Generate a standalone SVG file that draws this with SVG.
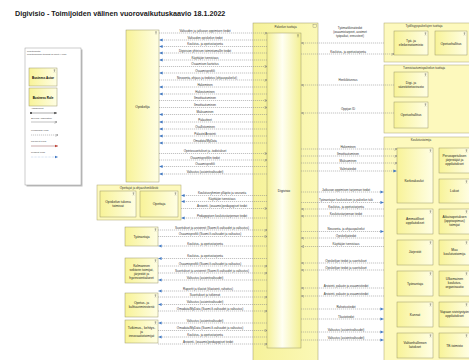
<svg xmlns="http://www.w3.org/2000/svg" width="469" height="360" viewBox="0 0 469 360">
<defs>
<linearGradient id="gA" x1="0" x2="1" y1="0" y2="0"><stop offset="0" stop-color="#f8f398"/><stop offset="1" stop-color="#fffee4"/></linearGradient>
<linearGradient id="gD" x1="0" x2="1" y1="0" y2="0"><stop offset="0" stop-color="#f5f196"/><stop offset="0.45" stop-color="#fffff3"/><stop offset="1" stop-color="#f3ef92"/></linearGradient>
<linearGradient id="gO" x1="0" x2="1" y1="0" y2="0"><stop offset="0" stop-color="#f6f29a"/><stop offset="1" stop-color="#fbf8b6"/></linearGradient>
<marker id="mb" viewBox="0 0 6 6" refX="5.5" refY="3" markerWidth="3.4" markerHeight="3.4" markerUnits="userSpaceOnUse" orient="auto"><path d="M0,0.5 L6,3 L0,5.5 z" fill="#3f78c4"/></marker>
<marker id="mg" viewBox="0 0 6 6" refX="5.5" refY="3" markerWidth="3" markerHeight="3" markerUnits="userSpaceOnUse" orient="auto"><path d="M0.5,0.5 L5.5,3 L0.5,5.5" fill="none" stroke="#6f6f6f" stroke-width="1"/></marker>
<marker id="mr" viewBox="0 0 6 6" refX="5.5" refY="3" markerWidth="3.2" markerHeight="3.2" markerUnits="userSpaceOnUse" orient="auto"><path d="M0,0.5 L6,3 L0,5.5 z" fill="#c0392b"/></marker>
<marker id="md" viewBox="0 0 6 6" refX="3" refY="3" markerWidth="2.4" markerHeight="2.4" markerUnits="userSpaceOnUse" orient="auto"><circle cx="3" cy="3" r="2.6" fill="#444"/></marker>
<marker id="mk" viewBox="0 0 6 6" refX="5.5" refY="3" markerWidth="3" markerHeight="3" markerUnits="userSpaceOnUse" orient="auto"><path d="M0,0.5 L6,3 L0,5.5 z" fill="#444"/></marker>
<symbol id="ic" viewBox="0 0 4 5"><circle cx="2" cy="0.9" r="0.7" fill="none" stroke="#555" stroke-width="0.35"/><path d="M2 1.6V3.3M0.8 2.2H3.2M2 3.3L1 4.7M2 3.3L3 4.7" stroke="#555" stroke-width="0.35" fill="none"/></symbol>
</defs>
<style>
text{font-family:"Liberation Sans",Arial,sans-serif}
.title{font-size:7.2px;font-weight:bold;fill:#1a1a1a}
.cl{font-size:3px;fill:#333;text-anchor:middle}
.nl{font-size:3.3px;fill:#222;text-anchor:middle}
.gl{font-size:3px;fill:#333;text-anchor:middle}
.lg{font-size:2.4px;fill:#444}
.act{fill:url(#gA);stroke:#9b9868;stroke-width:0.5}
.grp{fill:#fdf9bd;stroke:#aaa56c;stroke-width:0.5}
.c{stroke:#858585;stroke-width:0.5;stroke-dasharray:1.2 0.8;fill:none}
</style>
<rect width="469" height="360" fill="#fff"/>
<text class="title" x="15" y="15.5">Digivisio - Toimijoiden välinen vuorovaikutuskaavio 18.1.2022</text>

<g id="legend">
<rect x="26.5" y="49.5" width="56" height="137" fill="#bdbdbd"/>
<rect x="25" y="48" width="56" height="137" fill="#fff" stroke="#9a9a9a" stroke-width="0.5"/>
<text class="lg" x="27" y="51.8">Liiketoiminta</text>
<text class="lg" x="27" y="55">Liiketoiminnan toimijat ja roolit (Archi)</text>
<rect class="act" x="29" y="68" width="28" height="18"/>
<use href="#ic" x="53" y="69" width="3" height="3.8"/>
<text x="43" y="78.5" style="font-size:3px;font-weight:bold;text-anchor:middle">Business Actor</text>
<rect class="act" x="29" y="88" width="28" height="18"/>
<text x="43" y="98.5" style="font-size:3px;font-weight:bold;text-anchor:middle">Business Role</text>
<text class="lg" x="31" y="109">Assignment</text>
<line x1="31" y1="113" x2="57" y2="113" stroke="#444" stroke-width="0.45" marker-start="url(#md)" marker-end="url(#mk)"/>
<text class="lg" x="31" y="118.5">Serving Association</text>
<line x1="31" y1="122" x2="57" y2="122" stroke="#777" stroke-width="0.45" marker-end="url(#mg)"/>
<text class="lg" x="31" y="130.5">Knowledge Flow</text>
<line x1="31" y1="135" x2="58" y2="135" class="c" marker-end="url(#mg)"/>
<text class="lg" x="31" y="141.5">Payment Flow</text>
<line x1="31" y1="146" x2="58" y2="146" stroke="#8b4444" stroke-width="0.45" marker-end="url(#mr)"/>
<text class="lg" x="31" y="153">Product Flow</text>
<line x1="31" y1="157" x2="58" y2="157" stroke="#7fa6d8" stroke-width="0.5" stroke-dasharray="0.6 0.8" marker-end="url(#mb)"/>
</g>

<g id="node-opiskelija">
<rect class="act" x="126" y="30" width="33" height="152"/>
<use href="#ic" x="154.5" y="31" width="3" height="3.8"/>
<text class="nl" x="142.5" y="108">Opiskelija</text>
</g>

<g id="node-opettajat">
<rect class="grp" x="97" y="185" width="84" height="35"/>
<text class="gl" x="139" y="189">Opettajat ja ohjaushenkilöstö</text>
<rect class="act" x="100" y="191" width="36" height="26"/>
<use href="#ic" x="132" y="192" width="3" height="3.8"/>
<text class="nl" x="118" y="203">Opiskelun tukena</text>
<text class="nl" x="118" y="207">toimivat</text>
<rect class="act" x="140" y="191" width="38" height="26"/>
<use href="#ic" x="174" y="192" width="3" height="3.8"/>
<text class="nl" x="159" y="205">Opettaja</text>
</g>

<g id="node-tyonantaja">
<rect class="act" x="125" y="227" width="33" height="19"/>
<use href="#ic" x="154" y="228" width="3" height="3.8"/>
<text class="nl" x="141.5" y="238">Työnantaja</text>
</g>

<g id="node-kolmas-sektori">
<rect class="act" x="125" y="258" width="33" height="25"/>
<use href="#ic" x="154" y="259" width="3" height="3.8"/>
<text class="nl" x="141.5" y="267">Kolmannen</text>
<text class="nl" x="141.5" y="271">sektorin toimijat,</text>
<text class="nl" x="141.5" y="275">järjestöt ja</text>
<text class="nl" x="141.5" y="279">hyvinvointialueet</text>
</g>

<g id="node-okm">
<rect class="act" x="125" y="293" width="33" height="24"/>
<use href="#ic" x="154" y="294" width="3" height="3.8"/>
<text class="nl" x="141.5" y="304">Opetus- ja</text>
<text class="nl" x="141.5" y="308">kulttuuriministeriö</text>
</g>

<g id="node-tki">
<rect class="act" x="125" y="320" width="33" height="23"/>
<use href="#ic" x="154" y="321" width="3" height="3.8"/>
<text class="nl" x="141.5" y="328.5">Tutkimus-, kehitys-</text>
<text class="nl" x="141.5" y="332.5">ja</text>
<text class="nl" x="141.5" y="336.5">innovaatiotoimijat</text>
</g>

<g id="node-palvelun-tuottaja">
<rect x="253" y="23" width="65" height="345" fill="url(#gO)" stroke="#9b9868" stroke-width="0.5"/>
<rect x="313" y="24.5" width="3.5" height="3" fill="none" stroke="#666" stroke-width="0.3"/>
<text class="gl" x="285.5" y="27.5">Palvelun tuottaja</text>
</g>

<g id="node-digivisio">
<rect x="267" y="33" width="34" height="315" fill="url(#gD)" stroke="#9b9868" stroke-width="0.5"/>
<use href="#ic" x="296.5" y="34" width="3" height="3.8"/>
<text class="nl" x="284" y="192">Digivisio</text>
</g>

<g id="node-tyollisyys">
<rect class="grp" x="384" y="23" width="90" height="39"/>
<text class="gl" x="424" y="27">Työllisyyspalvelujen tuottaja</text>
<rect class="act" x="394" y="31" width="34" height="24"/>
<use href="#ic" x="424" y="32" width="3" height="3.8"/>
<text class="nl" x="411" y="42">Työ- ja</text>
<text class="nl" x="411" y="46">elinkeinotoimisto</text>
<rect class="act" x="435" y="31" width="32" height="24"/>
<use href="#ic" x="463" y="32" width="3" height="3.8"/>
<text class="nl" x="451" y="44.5">Opetushallitus</text>
</g>

<g id="node-tunnistus">
<rect class="grp" x="384" y="65" width="90" height="68"/>
<text class="gl" x="424" y="69">Tunnistautumispalvelun tuottaja</text>
<rect class="act" x="394" y="72" width="34" height="25"/>
<use href="#ic" x="424" y="73" width="3" height="3.8"/>
<text class="nl" x="411" y="83.5">Digi- ja</text>
<text class="nl" x="411" y="87.5">väestötietovirasto</text>
<rect class="act" x="394" y="102" width="34" height="26"/>
<use href="#ic" x="424" y="103" width="3" height="3.8"/>
<text class="nl" x="411" y="116">Opetushallitus</text>
</g>

<g id="node-koulutustoimija">
<rect class="grp" x="384" y="137" width="90" height="230"/>
<text class="gl" x="421" y="141">Koulutustoimija</text>
</g>
<g id="node-korkeakoulut"><rect class="act" x="397" y="148" width="36" height="55"/><use href="#ic" x="429" y="149" width="3" height="3.8"/><text class="nl" x="414" y="182">Korkeakoulut</text></g>
<g id="node-ammatilliset"><rect class="act" x="397" y="209" width="36" height="25"/><use href="#ic" x="429" y="210" width="3" height="3.8"/><text class="nl" x="415" y="220">Ammatilliset</text><text class="nl" x="415" y="224">oppilaitokset</text></g>
<g id="node-jarjestot"><rect class="act" x="397" y="240" width="36" height="25"/><use href="#ic" x="429" y="241" width="3" height="3.8"/><text class="nl" x="415" y="253">Järjestöt</text></g>
<g id="node-tyonantaja2"><rect class="act" x="397" y="271" width="36" height="25"/><use href="#ic" x="429" y="272" width="3" height="3.8"/><text class="nl" x="415" y="284.5">Työnantaja</text></g>
<g id="node-kunnat"><rect class="act" x="397" y="302" width="36" height="25"/><use href="#ic" x="429" y="303" width="3" height="3.8"/><text class="nl" x="415" y="315.5">Kunnat</text></g>
<g id="node-valtionhallinto"><rect class="act" x="397" y="333" width="36" height="25"/><use href="#ic" x="429" y="334" width="3" height="3.8"/><text class="nl" x="415" y="344">Valtionhallinnon</text><text class="nl" x="415" y="348">laitokset</text></g>
<g id="node-perusopetus"><rect class="act" x="439" y="148" width="31" height="25"/><use href="#ic" x="465" y="149" width="3" height="3.8"/><text class="nl" x="454.5" y="157">Perusopetuksen</text><text class="nl" x="454.5" y="161">järjestäjät ja</text><text class="nl" x="454.5" y="165">oppilaitokset</text></g>
<g id="node-lukiot"><rect class="act" x="439" y="179" width="31" height="24"/><use href="#ic" x="465" y="180" width="3" height="3.8"/><text class="nl" x="454.5" y="192">Lukiot</text></g>
<g id="node-aikuiskoulutus"><rect class="act" x="439" y="209" width="31" height="25"/><use href="#ic" x="465" y="210" width="3" height="3.8"/><text class="nl" x="454.5" y="218">Aikuisopetuksen</text><text class="nl" x="454.5" y="222">(oppisopimus)</text><text class="nl" x="454.5" y="226">toimijat</text></g>
<g id="node-muu"><rect class="act" x="439" y="240" width="31" height="25"/><use href="#ic" x="465" y="241" width="3" height="3.8"/><text class="nl" x="454.5" y="251">Muu</text><text class="nl" x="454.5" y="255">koulutustoimija</text></g>
<g id="node-ulkomainen"><rect class="act" x="439" y="271" width="31" height="25"/><use href="#ic" x="465" y="272" width="3" height="3.8"/><text class="nl" x="454.5" y="280">Ulkomainen</text><text class="nl" x="454.5" y="284">koulutus-</text><text class="nl" x="454.5" y="288">organisaatio</text></g>
<g id="node-vapaa"><rect class="act" x="439" y="302" width="31" height="25"/><use href="#ic" x="465" y="303" width="3" height="3.8"/><text class="nl" x="454.5" y="313">Vapaan sivistystyön</text><text class="nl" x="454.5" y="317">oppilaitokset</text></g>
<g id="node-te"><rect class="act" x="439" y="333" width="31" height="25"/><use href="#ic" x="465" y="334" width="3" height="3.8"/><text class="nl" x="454.5" y="346.5">TE-toimisto</text></g>

<g id="connectors">
<line class="c" x1="159" y1="33" x2="267" y2="33" marker-end="url(#mg)"/><text class="cl" x="205" y="31.8">Valtuuden ja jatkuvan oppimisen tiedot</text>
<line class="c" x1="267" y1="40" x2="159.5" y2="40" marker-end="url(#mb)"/><text class="cl" x="205" y="38.8">Valtuuden opiskelun tiedot</text>
<line class="c" x1="267" y1="46.5" x2="159.5" y2="46.5" marker-end="url(#mb)"/><text class="cl" x="205" y="45.3">Koulutus- ja opetustarjonta</text>
<line class="c" x1="267" y1="53" x2="159.5" y2="53" marker-end="url(#mb)"/><text class="cl" x="205" y="51.8">Digivision yhteisen toimintamallin tiedot</text>
<line class="c" x1="267" y1="60" x2="159.5" y2="60" marker-end="url(#mb)"/><text class="cl" x="205" y="58.8">Käyttäjän tunnistaus</text>
<line class="c" x1="159" y1="66.5" x2="267" y2="66.5" marker-end="url(#mg)"/><text class="cl" x="205" y="65.3">Osaamisen kartoitus</text>
<line class="c" x1="267" y1="73" x2="159.5" y2="73" marker-end="url(#mb)"/><text class="cl" x="205" y="71.8">Osaamisprofiili</text>
<line class="c" x1="159" y1="80" x2="267" y2="80" marker-end="url(#mg)"/><text class="cl" x="207" y="78.8">Neuvonta, ohjaus ja tiedotus (ohjauspalvelut)</text>
<line class="c" x1="267" y1="87" x2="159.5" y2="87" marker-end="url(#mb)"/><text class="cl" x="205" y="85.8">Hakeminen</text>
<line class="c" x1="267" y1="94" x2="159.5" y2="94" marker-end="url(#mb)"/><text class="cl" x="205" y="92.8">Hakeutuminen</text>
<line class="c" x1="159" y1="100.5" x2="267" y2="100.5" marker-end="url(#mg)"/><text class="cl" x="205" y="99.3">Ilmoittautuminen</text>
<line class="c" x1="159" y1="107.5" x2="267" y2="107.5" marker-end="url(#mg)"/><text class="cl" x="205" y="106.3">Ilmoittautuminen</text>
<line class="c" x1="267" y1="114.5" x2="159.5" y2="114.5" marker-end="url(#mb)"/><text class="cl" x="205" y="113.3">Maksaminen</text>
<line class="c" x1="267" y1="122" x2="159.5" y2="122" marker-end="url(#mb)"/><text class="cl" x="205" y="120.8">Palautteet</text>
<line class="c" x1="267" y1="129" x2="159.5" y2="129" marker-end="url(#mb)"/><text class="cl" x="205" y="127.8">Osallistuminen</text>
<line class="c" x1="267" y1="136" x2="159.5" y2="136" marker-end="url(#mb)"/><text class="cl" x="205" y="134.8">Palaute/Arviointi</text>
<line class="c" x1="267" y1="143" x2="159.5" y2="143" marker-end="url(#mb)"/><text class="cl" x="205" y="141.8">Omadata/MyData</text>
<line class="c" x1="159" y1="153.5" x2="267" y2="153.5" marker-end="url(#mg)"/><text class="cl" x="205" y="152.3">Opintosuoritukset ja -todistukset</text>
<line class="c" x1="159" y1="160" x2="267" y2="160" marker-end="url(#mg)"/><text class="cl" x="205" y="158.8">Osaamisprofiilin tiedot</text>
<line class="c" x1="267" y1="166.5" x2="159.5" y2="166.5" marker-end="url(#mb)"/><text class="cl" x="205" y="165.3">Osaamisprofiili</text>
<line class="c" x1="267" y1="174" x2="159.5" y2="174" marker-end="url(#mb)"/><text class="cl" x="205" y="172.8">Valtuutus (asiointivaltuudet)</text>

<line class="c" x1="267" y1="195.5" x2="181.5" y2="195.5" marker-end="url(#mb)"/><text class="cl" x="222" y="194.3">Koulutusryhmien ylläpito ja seuranta</text>
<line class="c" x1="267" y1="201.5" x2="181.5" y2="201.5" marker-end="url(#mb)"/><text class="cl" x="222" y="200.3">Käyttäjän tunnistaus</text>
<line class="c" x1="181" y1="208.5" x2="267" y2="208.5" marker-end="url(#mg)"/><text class="cl" x="222" y="207.3">Arviointi- (osaamis)pedagogiset tiedot</text>
<line class="c" x1="267" y1="218" x2="181.5" y2="218" marker-end="url(#mb)"/><text class="cl" x="222" y="216.8">Pedagogisen koulutustarjonnan tiedot</text>

<line class="c" x1="158" y1="230" x2="267" y2="230" marker-end="url(#mg)"/><text class="cl" x="212" y="228.8">Suoritukset ja arvioinnit (Suomi.fi-valtuudet ja valtuutus)</text>
<line class="c" x1="158" y1="236.5" x2="267" y2="236.5" marker-end="url(#mg)"/><text class="cl" x="210" y="235.3">Osaamisprofiili (Suomi.fi-valtuudet ja valtuutus)</text>
<line class="c" x1="267" y1="246" x2="158.5" y2="246" marker-end="url(#mb)"/><text class="cl" x="205" y="244.8">Koulutus- ja opetustarjonta</text>

<line class="c" x1="267" y1="258.5" x2="158.5" y2="258.5" marker-end="url(#mb)"/><text class="cl" x="205" y="257.3">Koulutus- ja opetustarjonta</text>
<line class="c" x1="158" y1="266" x2="267" y2="266" marker-end="url(#mg)"/><text class="cl" x="210" y="264.8">Osaamisprofiili (Suomi.fi-valtuudet ja valtuutus)</text>
<line class="c" x1="158" y1="273" x2="267" y2="273" marker-end="url(#mg)"/><text class="cl" x="212" y="271.8">Suoritukset ja arvioinnit (Suomi.fi-valtuudet ja valtuutus)</text>
<line class="c" x1="267" y1="280" x2="158.5" y2="280" marker-end="url(#mb)"/><text class="cl" x="205" y="278.8">Valtuutus (asiointivaltuudet)</text>

<line class="c" x1="267" y1="291" x2="158.5" y2="291" marker-end="url(#mb)"/><text class="cl" x="208" y="289.8">Raportit ja tilastot (tilastointi, rahoitus)</text>
<line class="c" x1="158" y1="297" x2="267" y2="297" marker-end="url(#mg)"/><text class="cl" x="205" y="295.8">Suoritukset ja tutkinnot</text>
<line class="c" x1="267" y1="304.5" x2="158.5" y2="304.5" marker-end="url(#mb)"/><text class="cl" x="205" y="303.3">Valtuutus (asiointivaltuudet)</text>
<line class="c" x1="158" y1="311" x2="267" y2="311" marker-end="url(#mg)"/><text class="cl" x="210" y="309.8">Omadata/MyData (Suomi.fi-valtuudet ja valtuutus)</text>

<line class="c" x1="267" y1="323" x2="158.5" y2="323" marker-end="url(#mb)"/><text class="cl" x="205" y="321.8">Valtuutus (asiointivaltuudet)</text>
<line class="c" x1="158" y1="330.5" x2="267" y2="330.5" marker-end="url(#mg)"/><text class="cl" x="210" y="329.3">Omadata/MyData (Suomi.fi-valtuudet ja valtuutus)</text>
<line class="c" x1="267" y1="337" x2="158.5" y2="337" marker-end="url(#mb)"/><text class="cl" x="205" y="335.8">Koulutus- ja opetustarjonta</text>
<line class="c" x1="158" y1="344" x2="267" y2="344" marker-end="url(#mg)"/><text class="cl" x="208" y="342.8">Arviointi- (osaamis)pedagogiset tiedot</text>

<line class="c" x1="384" y1="43" x2="301.5" y2="43" marker-end="url(#mg)"/>
<text class="cl" x="350" y="29">Työmarkkinatiedot</text><text class="cl" x="350" y="33">(osaamistarpeet, avoimet</text><text class="cl" x="350" y="37">työpaikat, ennusteet)</text>
<line class="c" x1="301" y1="54" x2="394" y2="54" marker-end="url(#mg)"/><text class="cl" x="348" y="52.8">Koulutus- ja opetustarjonta</text>
<line class="c" x1="394" y1="85" x2="301.5" y2="85" marker-end="url(#mg)"/><text class="cl" x="348" y="81">Henkilötunnus</text>
<line class="c" x1="394" y1="113" x2="301.5" y2="113" marker-end="url(#mg)"/><text class="cl" x="348" y="110">Oppijan ID</text>

<line class="c" x1="301" y1="149" x2="397" y2="149" marker-end="url(#mg)"/><text class="cl" x="348" y="147.8">Hakeminen</text>
<line class="c" x1="301" y1="156" x2="397" y2="156" marker-end="url(#mg)"/><text class="cl" x="348" y="154.8">Ilmoittautuminen</text>
<line class="c" x1="301" y1="163" x2="397" y2="163" marker-end="url(#mg)"/><text class="cl" x="348" y="161.8">Maksaminen</text>
<line class="c" x1="301" y1="171" x2="396.5" y2="171" marker-end="url(#mb)"/><text class="cl" x="348" y="169.8">Valintatiedot</text>
<line class="c" x1="301" y1="192" x2="383.5" y2="192" marker-end="url(#mb)"/><text class="cl" x="346" y="190.8">Jatkuvan oppimisen tarjonnan tiedot</text>
<line class="c" x1="301" y1="202.5" x2="383.5" y2="202.5" marker-end="url(#mb)"/><text class="cl" x="346" y="201.3">Työnantajan koulutuksen ja palvelun tuki</text>
<line class="c" x1="384" y1="209" x2="301.5" y2="209" marker-end="url(#mg)"/><text class="cl" x="346" y="207.8">Koulutus- ja opetustarjonta</text>
<line class="c" x1="384" y1="216" x2="301.5" y2="216" marker-end="url(#mg)"/><text class="cl" x="346" y="214.8">Koulutustarjonnan tiedot</text>
<line class="c" x1="301" y1="231.5" x2="383.5" y2="231.5" marker-end="url(#mb)"/><text class="cl" x="346" y="230.3">Neuvonta- ja ohjauspalvelut</text>
<line class="c" x1="384" y1="238" x2="301.5" y2="238" marker-end="url(#mg)"/><text class="cl" x="346" y="236.8">Opiskelijatiedot</text>
<line class="c" x1="384" y1="246.5" x2="301.5" y2="246.5" marker-end="url(#mg)"/><text class="cl" x="346" y="245.3">Käyttäjän tunnistaus</text>
<line class="c" x1="384" y1="263" x2="301.5" y2="263" marker-end="url(#mg)"/><text class="cl" x="346" y="261.8">Opiskelijan tiedot ja suoritukset</text>
<line class="c" x1="384" y1="270" x2="301.5" y2="270" marker-end="url(#mg)"/><text class="cl" x="346" y="268.8">Opiskelijan tiedot ja suoritukset</text>
<line class="c" x1="384" y1="288" x2="301.5" y2="288" marker-end="url(#mg)"/><text class="cl" x="346" y="286.8">Arviointi, palaute ja osaamistiedot</text>
<line class="c" x1="384" y1="296" x2="301.5" y2="296" marker-end="url(#mg)"/><text class="cl" x="346" y="294.8">Arviointi, palaute ja osaamistiedot</text>
<line class="c" x1="301" y1="309" x2="383.5" y2="309" marker-end="url(#mb)"/><text class="cl" x="346" y="307.8">Rahoitustiedot</text>
<line class="c" x1="301" y1="319" x2="383.5" y2="319" marker-end="url(#mb)"/><text class="cl" x="346" y="317.8">Tilastotiedot</text>
<line class="c" x1="301" y1="332" x2="383.5" y2="332" marker-end="url(#mb)"/><text class="cl" x="346" y="330.8">Valtuutus (asiointivaltuudet)</text>
<line class="c" x1="301" y1="340" x2="383.5" y2="340" marker-end="url(#mb)"/><text class="cl" x="346" y="338.8">Valtuutus (asiointivaltuudet)</text>
</g>
</svg>
